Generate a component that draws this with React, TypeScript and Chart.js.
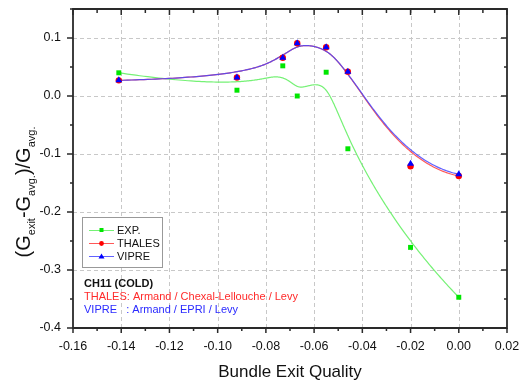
import React, { useEffect, useRef } from 'react';
import { Chart, registerables } from 'chart.js';

Chart.register(...registerables);

// ---- data ----
const qualities = [-0.141, -0.092, -0.073, -0.067, -0.055, -0.046, -0.02, 0.0];
const expValues = [0.04, 0.01, 0.052, 0.0, 0.041, -0.091, -0.261, -0.347];
const thalesValues = [0.027, 0.032, 0.066, 0.091, 0.084, 0.042, -0.121, -0.138];
const vipreValues = [0.027, 0.032, 0.066, 0.091, 0.084, 0.042, -0.117, -0.135];

const seriesNames = ['EXP.', 'THALES', 'VIPRE'];
const noteTitle = 'CH11 (COLD)';
const noteThales = 'THALES: Armand / Chexal-Lellouche / Levy';
const noteVipre = 'VIPRE   : Armand / EPRI / Levy';
const xTitle = 'Bundle Exit Quality';

const X_MIN = -0.16;
const X_MAX = 0.02;
const X_STEP = 0.02;
const Y_MIN = -0.4;
const Y_MAX = 0.15;
const Y_STEP = 0.1;

const FONT = '"Liberation Sans", Arial, Helvetica, sans-serif';

const markerColors = ['#00e600', '#ff0000', '#0000ff'];
const lineColors = ['rgba(110,240,110,0.95)', 'rgba(255,70,70,0.9)', 'rgba(70,70,255,0.85)'];

type P = { x: number; y: number };

function bspline(pts: P[]): P[] {
  const n = pts.length;
  const p = 3;
  if (n < 4) return pts;
  const knots: number[] = [];
  for (let i = 0; i <= p; i++) knots.push(0);
  for (let i = 1; i < n - p; i++) knots.push(i);
  for (let i = 0; i <= p; i++) knots.push(n - p);
  const tMax = n - p;
  const out: P[] = [];
  const steps = 400;
  for (let s = 0; s <= steps; s++) {
    const t = (tMax * s) / steps;
    let k = p;
    while (k < n - 1 && t >= knots[k + 1]) k++;
    const d: P[] = [];
    for (let j = 0; j <= p; j++) d.push({ x: pts[j + k - p].x, y: pts[j + k - p].y });
    for (let r = 1; r <= p; r++) {
      for (let j = p; j >= r; j--) {
        const i = j + k - p;
        const denom = knots[j + 1 + k - r] - knots[i];
        const a = denom === 0 ? 0 : (t - knots[i]) / denom;
        d[j] = { x: (1 - a) * d[j - 1].x + a * d[j].x, y: (1 - a) * d[j - 1].y + a * d[j].y };
      }
    }
    out.push(d[p]);
  }
  return out;
}

const originPlugin = {
  id: 'originStyle',
  beforeDatasetsDraw(chart: any) {
    const { ctx, chartArea: a, scales } = chart;
    const xs = scales.x;
    const ys = scales.y;
    ctx.save();
    // dashed grid
    ctx.strokeStyle = '#c8c8c8';
    ctx.lineWidth = 1;
    ctx.setLineDash([4, 3]);
    for (let v = X_MIN + X_STEP; v < X_MAX - 1e-9; v += X_STEP) {
      const px = Math.round(xs.getPixelForValue(v)) + 0.5;
      ctx.beginPath();
      ctx.moveTo(px, a.top);
      ctx.lineTo(px, a.bottom);
      ctx.stroke();
    }
    for (let v = Y_MIN + Y_STEP; v < Y_MAX - 1e-9; v += Y_STEP) {
      const py = Math.round(ys.getPixelForValue(v)) + 0.5;
      ctx.beginPath();
      ctx.moveTo(a.left, py);
      ctx.lineTo(a.right, py);
      ctx.stroke();
    }
    ctx.setLineDash([]);
    // B-spline connecting lines through each dataset's points
    [0, 1, 2].forEach((di) => {
      const meta = chart.getDatasetMeta(di);
      const pts = meta.data.map((el: any) => ({ x: el.x, y: el.y }));
      const curve = bspline(pts);
      ctx.strokeStyle = lineColors[di];
      ctx.lineWidth = 1.2;
      ctx.beginPath();
      curve.forEach((c, i) => (i === 0 ? ctx.moveTo(c.x, c.y) : ctx.lineTo(c.x, c.y)));
      ctx.stroke();
    });
    ctx.restore();
  },
  afterDatasetsDraw(chart: any) {
    const { ctx, chartArea: a, scales } = chart;
    const xs = scales.x;
    const ys = scales.y;
    ctx.save();
    // frame
    ctx.strokeStyle = '#2a2a2a';
    ctx.lineWidth = 1.8;
    ctx.beginPath();
    ctx.rect(a.left, a.top, a.right - a.left, a.bottom - a.top);
    ctx.stroke();
    // ticks
    ctx.lineWidth = 1.5;
    ctx.beginPath();
    const nx = Math.round((X_MAX - X_MIN) / (X_STEP / 2));
    for (let i = 0; i <= nx; i++) {
      const v = X_MIN + (i * X_STEP) / 2;
      const major = i % 2 === 0;
      const px = xs.getPixelForValue(v);
      ctx.moveTo(px, a.bottom);
      ctx.lineTo(px, a.bottom + (major ? 5 : 3));
      ctx.moveTo(px, a.top);
      ctx.lineTo(px, a.top + (major ? 6 : 4));
    }
    const ny = Math.round((Y_MAX - Y_MIN) / (Y_STEP / 2));
    for (let i = 0; i <= ny; i++) {
      const v = Y_MIN + (i * Y_STEP) / 2;
      const major = i % 2 === 0;
      const py = ys.getPixelForValue(v);
      ctx.moveTo(a.left, py);
      ctx.lineTo(a.left - (major ? 6 : 3), py);
      ctx.moveTo(a.right, py);
      ctx.lineTo(a.right - (major ? 6 : 3), py);
    }
    ctx.stroke();

    // x title
    ctx.fillStyle = '#111';
    ctx.font = `17px ${FONT}`;
    ctx.textAlign = 'center';
    ctx.textBaseline = 'middle';
    ctx.fillText(xTitle, (a.left + a.right) / 2, 372);

    // y title with subscripts
    const parts: [string, boolean][] = [
      ['(G', false],
      ['exit', true],
      ['-G', false],
      ['avg.', true],
      [')/G', false],
      ['avg.', true],
    ];
    const bigFont = `20px ${FONT}`;
    const smallFont = `11px ${FONT}`;
    let total = 0;
    parts.forEach(([t, sub]) => {
      ctx.font = sub ? smallFont : bigFont;
      total += ctx.measureText(t).width;
    });
    ctx.translate(30, 192);
    ctx.rotate(-Math.PI / 2);
    ctx.textAlign = 'left';
    ctx.textBaseline = 'alphabetic';
    let cx = -total / 2;
    parts.forEach(([t, sub]) => {
      ctx.font = sub ? smallFont : bigFont;
      ctx.fillText(t, cx, sub ? 5 : 0);
      cx += ctx.measureText(t).width;
    });
    ctx.setTransform(1, 0, 0, 1, 0, 0);

    // legend box
    const lx = 82, ly = 217, lw = 80, lh = 50;
    ctx.fillStyle = '#fff';
    ctx.fillRect(lx, ly, lw, lh);
    ctx.strokeStyle = '#999';
    ctx.lineWidth = 1;
    ctx.strokeRect(lx + 0.5, ly + 0.5, lw, lh);
    const rows = [230, 243, 256];
    seriesNames.forEach((name, i) => {
      const y = rows[i];
      ctx.strokeStyle = lineColors[i];
      ctx.lineWidth = 1;
      ctx.beginPath();
      ctx.moveTo(89, y + 0.5);
      ctx.lineTo(114, y + 0.5);
      ctx.stroke();
      ctx.fillStyle = markerColors[i];
      ctx.beginPath();
      if (i === 0) ctx.rect(99.5, y - 2, 4, 4);
      else if (i === 1) ctx.arc(101.5, y + 0.5, 2.4, 0, Math.PI * 2);
      else {
        ctx.moveTo(101.5, y - 2.5);
        ctx.lineTo(104.5, y + 2.5);
        ctx.lineTo(98.5, y + 2.5);
        ctx.closePath();
      }
      ctx.fill();
      ctx.fillStyle = '#111';
      ctx.font = `11px ${FONT}`;
      ctx.textAlign = 'left';
      ctx.textBaseline = 'middle';
      ctx.fillText(name, 117, y + 0.5);
    });

    // notes
    ctx.textAlign = 'left';
    ctx.textBaseline = 'middle';
    ctx.font = `bold 11px ${FONT}`;
    ctx.fillStyle = '#111';
    ctx.fillText(noteTitle, 84, 284);
    ctx.font = `11px ${FONT}`;
    ctx.fillStyle = '#ff2a2a';
    ctx.fillText(noteThales, 84, 297);
    ctx.fillStyle = '#2a2aff';
    ctx.fillText(noteVipre, 84, 310);
    ctx.restore();
  },
};

export default function App() {
  const ref = useRef<HTMLCanvasElement | null>(null);
  useEffect(() => {
    if (!ref.current) return;
    Chart.defaults.font.family = FONT;
    const toPts = (vals: number[]) => qualities.map((q, i) => ({ x: q, y: vals[i] }));
    const chart = new Chart(ref.current, {
      type: 'scatter',
      data: {
        datasets: [
          {
            label: seriesNames[0],
            data: toPts(expValues),
            showLine: false,
            pointStyle: 'rect',
            pointRadius: 3.5,
            pointBackgroundColor: markerColors[0],
            pointBorderColor: markerColors[0],
            pointBorderWidth: 0,
            order: 3,
          },
          {
            label: seriesNames[1],
            data: toPts(thalesValues),
            showLine: false,
            pointStyle: 'circle',
            pointRadius: 3.2,
            pointBackgroundColor: markerColors[1],
            pointBorderColor: markerColors[1],
            pointBorderWidth: 0,
            order: 2,
          },
          {
            label: seriesNames[2],
            data: toPts(vipreValues),
            showLine: false,
            pointStyle: 'triangle',
            pointRadius: 4,
            pointBackgroundColor: markerColors[2],
            pointBorderColor: markerColors[2],
            pointBorderWidth: 0,
            order: 1,
          },
        ],
      },
      options: {
        responsive: false,
        animation: false,
        events: [],
        layout: { padding: { left: 0, right: 20, top: 9, bottom: 0 } },
        plugins: { legend: { display: false }, tooltip: { enabled: false } },
        scales: {
          x: {
            type: 'linear',
            min: X_MIN,
            max: X_MAX,
            grid: { display: false, drawTicks: false },
            border: { display: false },
            ticks: {
              stepSize: X_STEP,
              color: '#111',
              font: { size: 12.5 },
              padding: 11,
              maxRotation: 0,
              callback: (v: any) => Number(v).toFixed(2).replace('-0.00', '0.00'),
            },
            afterFit: (s: any) => {
              s.height = 55;
              s.paddingLeft = 0;
              s.paddingRight = 0;
            },
          },
          y: {
            type: 'linear',
            min: Y_MIN,
            max: Y_MAX,
            grid: { display: false, drawTicks: false },
            border: { display: false },
            afterBuildTicks: (s: any) => {
              s.ticks = s.ticks.filter((t: any) => Math.abs(t.value * 10 - Math.round(t.value * 10)) < 1e-6);
            },
            ticks: {
              stepSize: Y_STEP,
              color: '#111',
              font: { size: 12.5 },
              padding: 12,
              callback: (v: any) => (Math.abs(Number(v)) < 1e-9 ? '0.0' : Number(v).toFixed(1)),
            },
            afterFit: (s: any) => {
              s.width = 73;
              s.paddingTop = 0;
              s.paddingBottom = 0;
            },
          },
        },
      },
      plugins: [originPlugin],
    });
    return () => chart.destroy();
  }, []);
  return (
    <div style={{ position: 'fixed', left: 0, top: 0, width: 527, height: 383, background: '#fff' }}>
      <canvas ref={ref} width={527} height={383} style={{ display: 'block' }} />
    </div>
  );
}
